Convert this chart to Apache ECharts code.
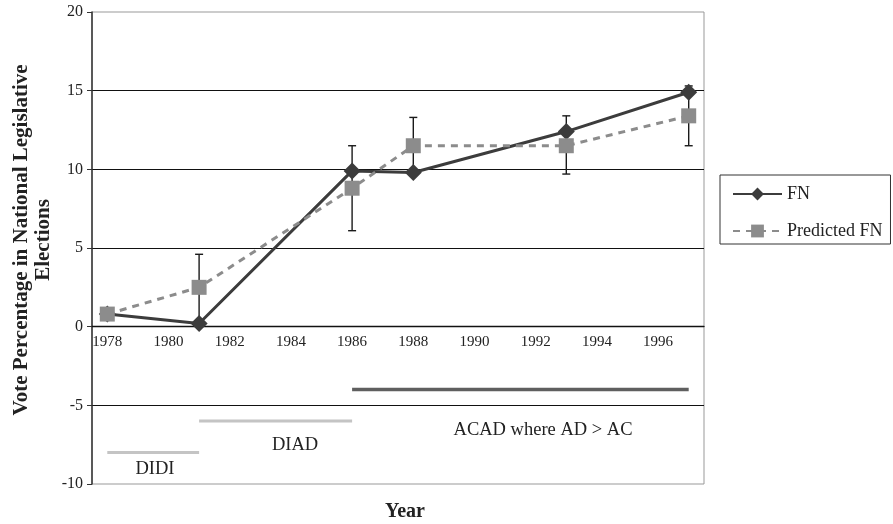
<!DOCTYPE html>
<html><head><meta charset="utf-8">
<script src="https://cdn.jsdelivr.net/npm/echarts@6/dist/echarts.min.js"></script>
<style>html,body{margin:0;padding:0;background:#fff}#c{width:893px;height:524px}</style>
</head><body><div id="c"></div>
<script>
const years = ['1978','1979','1980','1981','1982','1983','1984','1985','1986','1987','1988','1989','1990','1991','1992','1993','1994','1995','1996','1997'];
const obsYears = ['1978','1981','1986','1988','1993','1997'];
const fnValues = [0.8, 0.2, 9.9, 9.8, 12.4, 14.9];
const predValues = [0.8, 2.5, 8.8, 11.5, 11.5, 13.4];
const errYears = ['1981','1986','1988','1993','1997'];
const errLow = [0.4, 6.1, 9.7, 9.7, 11.5];
const errHigh = [4.6, 11.5, 13.3, 13.4, 15.3];
const periodNames = ['DIDI','DIAD','ACAD where AD > AC'];
const periodStart = ['1978','1981','1986'];
const periodEnd = ['1981','1986','1997'];
const periodLevel = [-8, -6, -4];
const periodColors = ['#c4c4c4','#c4c4c4','#5f5f5f'];
const yMin = -10, yMax = 20, yStep = 5;

const FONT = '"Liberation Serif", "Times New Roman", serif';
const chart = echarts.init(document.getElementById('c'), null, {renderer:'canvas'});

const periodSeries = periodNames.map((n,i)=>({
  name: n, type:'line', silent:true, symbol:'none',
  data: [[periodStart[i], periodLevel[i]], [periodEnd[i], periodLevel[i]]],
  lineStyle:{color: periodColors[i], width: i===2?3.5:3},
  z: 1
}));

const option = {
  animation:false,
  backgroundColor:'#fff',
  textStyle:{fontFamily:FONT},
  grid:{left:92, right:189, top:12, bottom:40, show:true, borderColor:'#999', borderWidth:1, backgroundColor:'transparent'},
  legend:{
    data:['FN','Predicted FN'],
    orient:'vertical', left:720, top:175,
    itemWidth:49, itemHeight:16, itemGap:17,
    padding:[9,8,3,12],
    borderColor:'#333', borderWidth:1,
    textStyle:{fontFamily:FONT, fontSize:18, lineHeight:20, color:'#222'}
  },
  xAxis:{
    type:'category', data:years, boundaryGap:true, position:'bottom', offset:0,
    axisLine:{onZero:false, lineStyle:{color:'#111', width:1.3}},
    axisTick:{interval:0, length:5, lineStyle:{color:'#111'}},
    axisLabel:{interval:1, fontFamily:FONT, fontSize:15, color:'#222', margin:8},
    splitLine:{show:false}
  },
  yAxis:{
    type:'value', min:yMin, max:yMax, interval:yStep,
    axisLine:{show:true, onZero:false, lineStyle:{color:'#333', width:1.5}},
    axisTick:{show:true, length:5, lineStyle:{color:'#333'}},
    axisLabel:{fontFamily:FONT, fontSize:16, color:'#222', margin:9},
    splitLine:{show:true, showMinLine:false, showMaxLine:false, lineStyle:{color:'#111', width:1}}
  },
  graphic:[
    {type:'text', x:22, y:240, rotation:Math.PI/2, style:{text:'Vote Percentage in National Legislative', font:'bold 21px '+FONT, fill:'#222', align:'center', verticalAlign:'middle'}},
    {type:'text', x:44, y:240, rotation:Math.PI/2, style:{text:'Elections', font:'bold 21px '+FONT, fill:'#222', align:'center', verticalAlign:'middle'}},
    {type:'text', x:405, y:512, style:{text:'Year', font:'bold 20px '+FONT, fill:'#222', align:'center', verticalAlign:'middle'}},
    {type:'text', x:155, y:469, style:{text:periodNames[0], font:'18.5px '+FONT, fill:'#222', align:'center', verticalAlign:'middle'}},
    {type:'text', x:295, y:445, style:{text:periodNames[1], font:'18.5px '+FONT, fill:'#222', align:'center', verticalAlign:'middle'}},
    {type:'text', x:543, y:430, style:{text:periodNames[2], font:'18.5px '+FONT, fill:'#222', align:'center', verticalAlign:'middle'}}
  ],
  series:[
    ...periodSeries,
    {
      name:'err', type:'custom', z:2, silent:true,
      data: errYears.map((y,i)=>[y, errLow[i], errHigh[i]]),
      encode:{x:0, y:[1,2]},
      renderItem(params, api){
        const x = api.value(0);
        const lo = api.coord([x, api.value(1)]);
        const hi = api.coord([x, api.value(2)]);
        const w = 4, st = {stroke:'#1a1a1a', lineWidth:1.4};
        return {type:'group', children:[
          {type:'line', shape:{x1:lo[0], y1:lo[1], x2:hi[0], y2:hi[1]}, style:st},
          {type:'line', shape:{x1:lo[0]-w, y1:lo[1], x2:lo[0]+w, y2:lo[1]}, style:st},
          {type:'line', shape:{x1:hi[0]-w, y1:hi[1], x2:hi[0]+w, y2:hi[1]}, style:st}
        ]};
      }
    },
    {
      name:'FN', type:'line', z:3,
      data: obsYears.map((y,i)=>[y, fnValues[i]]),
      symbol:'diamond', symbolSize:17,
      itemStyle:{color:'#3c3c3c'},
      lineStyle:{color:'#3c3c3c', width:3}
    },
    {
      name:'Predicted FN', type:'line', z:4,
      data: obsYears.map((y,i)=>[y, predValues[i]]),
      symbol:'rect', symbolSize:15,
      itemStyle:{color:'#8c8c8c'},
      lineStyle:{color:'#8c8c8c', width:3, type:[7,6]}
    }
  ]
};
chart.setOption(option);
// put the category axis on the zero line of the value axis
const zeroY = chart.convertToPixel({yAxisIndex:0}, 0);
const bottomY = chart.convertToPixel({yAxisIndex:0}, yMin);
chart.setOption({xAxis:{offset: zeroY - bottomY}});
</script>
</body></html>
